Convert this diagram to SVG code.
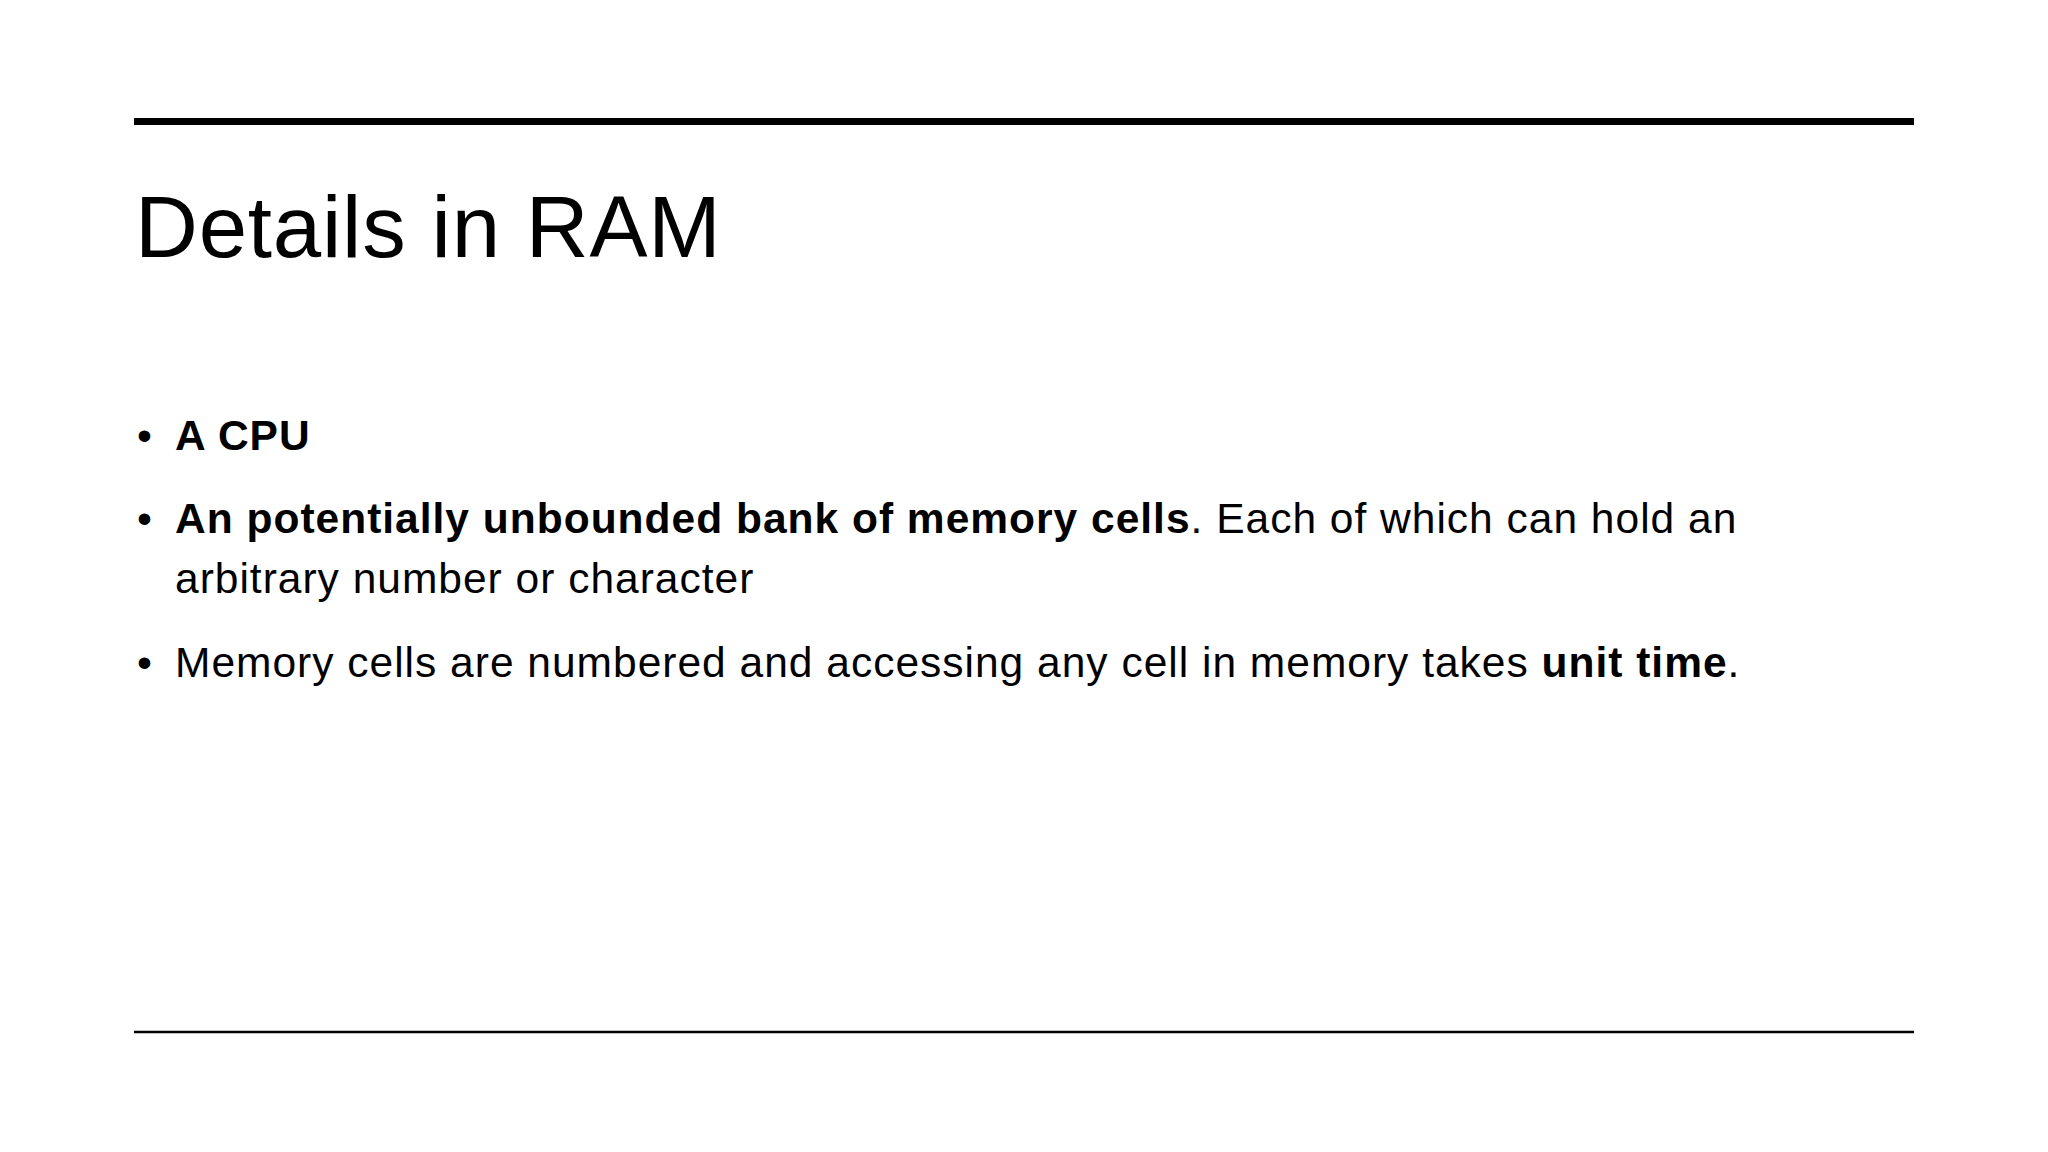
<svg xmlns="http://www.w3.org/2000/svg" width="2048" height="1152" viewBox="0 0 2048 1152">
<style>
.t{font-family:"Liberation Sans",Arial,sans-serif;fill:#000}
.b{font-size:42.5px;letter-spacing:1px}
.bold{font-weight:bold}
</style>
<rect width="2048" height="1152" fill="#fff"/>
<line x1="134" y1="121.5" x2="1914" y2="121.5" stroke="#000" stroke-width="7"/>
<line x1="134" y1="1032" x2="1914" y2="1032" stroke="#000" stroke-width="2.5"/>
<text id="title" class="t" x="135" y="257" font-size="87" letter-spacing="0.8">Details in RAM</text>
<g id="bullets">
<text class="t b" x="137" y="450">•</text>
<text class="t b bold" x="175" y="450">A CPU</text>
<text class="t b" x="137" y="533">•</text>
<text class="t b" x="175" y="533"><tspan class="bold">An potentially unbounded bank of memory cells</tspan>. Each of which can hold an</text>
<text class="t b" x="175" y="593">arbitrary number or character</text>
<text class="t b" x="137" y="677">•</text>
<text class="t b" x="175" y="677">Memory cells are numbered and accessing any cell in memory takes <tspan class="bold">unit time</tspan>.</text>
</g>
</svg>
